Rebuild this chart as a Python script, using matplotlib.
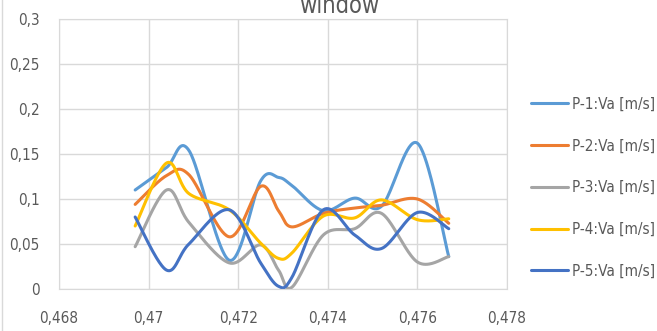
import numpy as np
import matplotlib
matplotlib.use("Agg")
from matplotlib import pyplot as plt
from matplotlib.ticker import FuncFormatter

plt.rcParams['font.family'] = ['DejaVu Sans']
plt.rcParams['font.stretch'] = 'condensed'

x = [0.4697, 0.4704, 0.4709, 0.4718, 0.4725, 0.4729, 0.4732,
     0.4739, 0.4746, 0.4752, 0.4760, 0.4767]
p1 = [0.110, 0.135, 0.154, 0.032, 0.120, 0.124, 0.115, 0.087, 0.101, 0.092, 0.162, 0.036]
p2 = [0.094, 0.126, 0.127, 0.058, 0.114, 0.087, 0.069, 0.084, 0.090, 0.093, 0.100, 0.073]
p3 = [0.047, 0.110, 0.074, 0.029, 0.049, 0.021, 0.002, 0.060, 0.067, 0.084, 0.030, 0.036]
p4 = [0.070, 0.140, 0.106, 0.088, 0.051, 0.034, 0.040, 0.081, 0.079, 0.099, 0.077, 0.078]
p5 = [0.080, 0.021, 0.050, 0.088, 0.029, 0.003, 0.013, 0.088, 0.060, 0.045, 0.085, 0.067]

labels = ['P-1:Va [m/s]', 'P-2:Va [m/s]', 'P-3:Va [m/s]', 'P-4:Va [m/s]', 'P-5:Va [m/s]']
colors = ['#5B9BD5', '#ED7D31', '#A5A5A5', '#FFC000', '#4472C4']


def smooth(xs, ys, n=40):
    # bezier smoothing like spreadsheet "smoothed line" charts
    pts = np.column_stack([xs, ys])
    pad = np.vstack([pts[0], pts, pts[-1]])
    t = np.linspace(0, 1, n)[:, None]
    segs = []
    for i in range(len(pts) - 1):
        a, b = pad[i + 1], pad[i + 2]
        c1 = a + (pad[i + 2] - pad[i]) / 6
        c2 = b - (pad[i + 3] - pad[i + 1]) / 6
        segs.append((1 - t) ** 3 * a + 3 * (1 - t) ** 2 * t * c1 + 3 * (1 - t) * t ** 2 * c2 + t ** 3 * b)
    return np.vstack(segs)


fig = plt.figure(figsize=(6.57, 3.31), dpi=100)
ax = fig.add_axes([59 / 657, 42 / 331, 448 / 657, 270 / 331])

for ys, lab, c in zip([p1, p2, p3, p4, p5], labels, colors):
    curve = smooth(x, ys)
    ax.plot(curve[:, 0], curve[:, 1], color=c, lw=2.2, label=lab, solid_capstyle='round')

ax.set_xlim(0.468, 0.478)
ax.set_ylim(0, 0.3)
ax.set_xticks([0.468, 0.470, 0.472, 0.474, 0.476, 0.478])
ax.set_yticks([0, 0.05, 0.1, 0.15, 0.2, 0.25, 0.3])
ax.xaxis.set_major_formatter(FuncFormatter(lambda v, p: ('%g' % round(v, 4)).replace('.', ',')))
ax.yaxis.set_major_formatter(FuncFormatter(lambda v, p: ('%g' % round(v, 3)).replace('.', ',')))
ax.grid(True, color='#D9D9D9', lw=1)
ax.set_axisbelow(True)
for s in ax.spines.values():
    s.set_color('#D9D9D9')
ax.tick_params(length=0, labelsize=11, labelcolor='#595959')
ax.tick_params(axis='y', pad=14)
ax.tick_params(axis='x', pad=16)

fig.text(339 / 657, 1 - 13 / 331, 'window', ha='center', va='baseline', fontsize=17, color='#595959')

fig.legend(loc='upper left', bbox_to_anchor=(517 / 657, 1 - 83 / 331), frameon=False,
           fontsize=11, labelcolor='#595959', handlelength=2.45, handletextpad=0.25,
           labelspacing=1.75)

# chart border on the left edge
fig.add_artist(plt.Line2D([1.5 / 657, 1.5 / 657], [0, 1], color='#D9D9D9', lw=1))

fig.savefig('out.png', dpi=100)
